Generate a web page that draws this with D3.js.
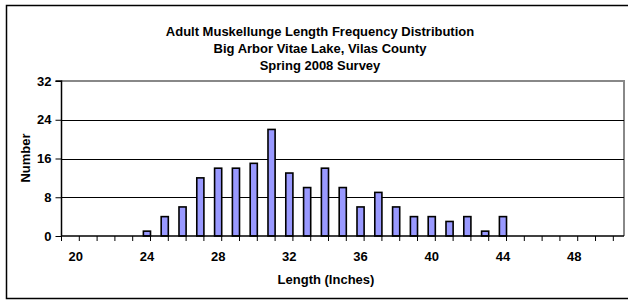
<!DOCTYPE html>
<html>
<head>
<meta charset="utf-8">
<script src="https://cdn.jsdelivr.net/npm/d3@7/dist/d3.min.js"></script>
<style>
  body { margin: 0; background: #fff; }
  svg { display: block; font-family: "Liberation Sans", Arial, sans-serif; }
</style>
</head>
<body>
<div id="chart"></div>
<script>
'use strict';

// data
var titleLines = ['Adult Muskellunge Length Frequency Distribution',
                  'Big Arbor Vitae Lake, Vilas County',
                  'Spring 2008 Survey'];
var lengths = d3.range(20, 51);
var counts = [0, 0, 0, 0, 1, 4, 6, 12, 14, 14, 15, 22, 13, 10, 14, 10,
              6, 9, 6, 4, 4, 3, 4, 1, 4, 0, 0, 0, 0, 0, 0];
var xTickLabels = [20, 24, 28, 32, 36, 40, 44, 48];
var yTicks = [0, 8, 16, 24, 32];

var width = 628, height = 301;
var plotL = 61.5, plotR = 624, plotT = 81, plotB = 236;
var fontSize = '13px';

var svg = d3.select('#chart').append('svg')
    .attr('width', width)
    .attr('height', height);

// outer border
svg.append('rect')
    .attr('x', 6.5).attr('y', 5.5)
    .attr('width', 640).attr('height', 293)
    .style('fill', 'none')
    .style('stroke', '#000')
    .style('stroke-width', 1.5);

var x = d3.scaleBand().domain(lengths).range([plotL, plotR]).padding(0.6);
var y = d3.scaleLinear().domain([0, 32]).range([plotB, plotT]);

// plot frame (gray top and right)
svg.append('path')
    .attr('d', 'M' + plotL + ',' + plotT + 'H' + plotR + 'V' + plotB)
    .style('fill', 'none')
    .style('stroke', '#888')
    .style('stroke-width', 2);

// grid lines
svg.append('g').selectAll('line')
    .data(yTicks.filter(function(d){ return d > 0 && d < 32; }))
    .enter().append('line')
    .attr('x1', plotL).attr('x2', plotR)
    .attr('y1', function(d){ return Math.round(y(d)) + 0.5; })
    .attr('y2', function(d){ return Math.round(y(d)) + 0.5; })
    .style('stroke', '#000')
    .style('shape-rendering', 'crispEdges');

// bars
svg.append('g').selectAll('rect')
    .data(lengths.map(function(d, i){ return {len: d, n: counts[i]}; })
        .filter(function(d){ return d.n > 0; }))
    .enter().append('rect')
    .attr('x', function(d){ return x(d.len); })
    .attr('width', x.bandwidth())
    .attr('y', function(d){ return y(d.n); })
    .attr('height', function(d){ return y(0) - y(d.n); })
    .style('fill', '#9999ff')
    .style('stroke', '#000')
    .style('stroke-width', 1.6);

// y axis
var yAxis = svg.append('g')
    .attr('transform', 'translate(' + plotL + ',0)')
    .call(d3.axisLeft(y).tickValues(yTicks).tickSize(6).tickPadding(4));
yAxis.select('.domain').attr('d', 'M-6,' + plotT + 'H0V' + plotB);

// x axis with ticks at category boundaries
var step = x.step();
var boundaries = d3.range(lengths.length + 1);
var xAxis = svg.append('g').attr('transform', 'translate(0,' + plotB + ')');
xAxis.append('line')
    .attr('x1', plotL).attr('x2', plotR)
    .style('stroke', '#000').style('stroke-width', 1.5);
xAxis.selectAll('.tk').data(boundaries).enter().append('line')
    .attr('class', 'tk')
    .attr('x1', function(d){ return plotL + d * step; })
    .attr('x2', function(d){ return plotL + d * step; })
    .attr('y1', 0).attr('y2', 5)
    .style('stroke', '#000');
xAxis.selectAll('text').data(xTickLabels).enter().append('text')
    .attr('x', function(d){ return x(d) + x.bandwidth() / 2; })
    .attr('y', 25)
    .attr('text-anchor', 'middle')
    .text(function(d){ return d; });

svg.selectAll('.tick text, g text')
    .style('font-size', fontSize)
    .style('font-weight', 'bold')
    .style('fill', '#000');
yAxis.selectAll('.tick line').style('stroke', '#000');
yAxis.select('.domain').style('stroke', '#000').style('stroke-width', 1.5);

// titles
svg.append('g').selectAll('text')
    .data(titleLines)
    .enter().append('text')
    .attr('x', 320)
    .attr('y', function(d, i){ return 35.5 + i * 17.3; })
    .attr('text-anchor', 'middle')
    .style('font-size', fontSize)
    .style('font-weight', 'bold')
    .text(function(d){ return d; });

svg.append('text')
    .attr('x', 326).attr('y', 284)
    .attr('text-anchor', 'middle')
    .style('font-size', fontSize)
    .style('font-weight', 'bold')
    .text('Length (Inches)');

svg.append('text')
    .attr('transform', 'translate(30,158) rotate(-90)')
    .attr('text-anchor', 'middle')
    .style('font-size', fontSize)
    .style('font-weight', 'bold')
    .text('Number');
</script>
</body>
</html>
